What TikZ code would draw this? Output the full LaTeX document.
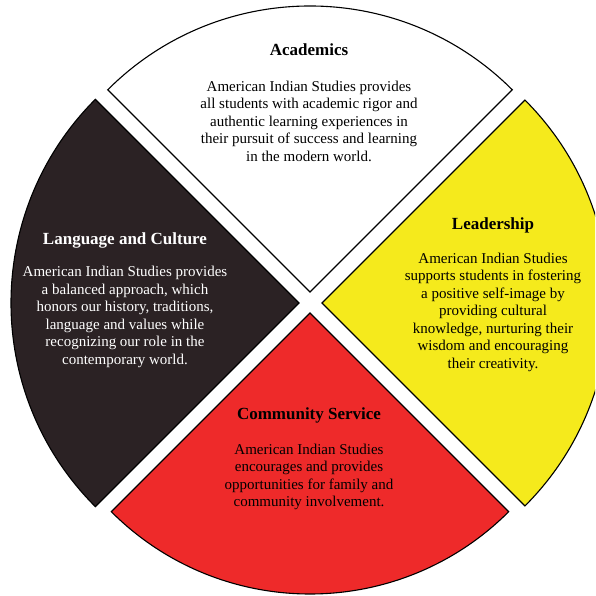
\documentclass[tikz,border=0pt]{standalone}
\usepackage{fontspec}
\setmainfont{Liberation Serif}
\definecolor{wedgeblack}{HTML}{2B2224}
\definecolor{wedgeyellow}{HTML}{F5EA1C}
\definecolor{wedgered}{HTML}{EE2A2A}
\begin{document}
\begin{tikzpicture}[x=1pt,y=1pt,
  wedge/.style={draw=black,line width=1.1pt,line join=miter},
  title/.style={font=\fontsize{17}{20}\selectfont\bfseries,align=center,inner sep=0pt},
  body/.style={font=\fontsize{15}{17.5}\selectfont,align=center,inner sep=0pt}]
\useasboundingbox (0,0) rectangle (595,596);
\fill[white] (0,0) rectangle (595,596);
\begin{scope}
\clip (0,0) rectangle (595,596);
% Academics (top, white)
\draw[wedge,fill=white] (310,304) -- ++(45:286pt) arc[start angle=45,end angle=135,radius=286pt] -- cycle;
% Language and Culture (left, black)
\draw[wedge,fill=wedgeblack] (299,293) -- ++(135:288pt) arc[start angle=135,end angle=225,radius=288pt] -- cycle;
% Leadership (right, yellow)
\draw[wedge,fill=wedgeyellow] (322,293) -- ++(-45:287pt) arc[start angle=-45,end angle=45,radius=287pt] -- cycle;
% Community Service (bottom, red)
\draw[wedge,fill=wedgered] (310,283) -- ++(225:281pt) arc[start angle=225,end angle=315,radius=281pt] -- cycle;
\end{scope}
% texts
\node[title] (acadT) at (309,546) {Academics};
\node[body] (acadB) at (309,475) {American Indian Studies provides\\all students with academic rigor and\\authentic learning experiences in\\their pursuit of success and learning\\in the modern world.};
\node[title,text=white] (langT) at (125,356) {Language and Culture};
\node[body,text=white] (langB) at (125,279) {American Indian Studies provides\\a balanced approach, which\\honors our history, traditions,\\language and values while\\recognizing our role in the\\contemporary world.};
\node[title] (leadT) at (493,371) {Leadership};
\node[body] (leadB) at (493,284) {American Indian Studies\\supports students in fostering\\a positive self-image by\\providing cultural\\knowledge, nurturing their\\wisdom and encouraging\\their creativity.};
\node[title] (commT) at (309,181) {Community Service};
\node[body] (commB) at (309,119) {American Indian Studies\\encourages and provides\\opportunities for family and\\community involvement.};
\end{tikzpicture}
\end{document}
